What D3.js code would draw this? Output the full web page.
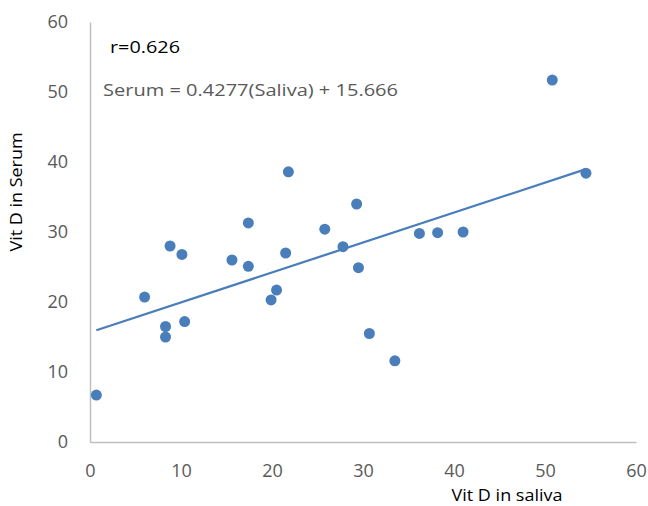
<!DOCTYPE html>
<html>
<head>
<meta charset="utf-8">
<script src="https://cdn.jsdelivr.net/npm/d3@7"></script>
<style>
  body { margin: 0; background: #fff; }
  svg { display: block; font-family: "Open Sans", sans-serif; }
</style>
</head>
<body>
<div id="chart"></div>
<script>

// values
var saliva = [0.7, 6.0, 8.3, 8.3, 8.8, 10.1, 10.4, 15.6, 17.4, 17.4, 19.9, 20.5, 21.5,
              21.8, 25.8, 27.8, 29.3, 29.5, 30.7, 33.5, 36.2, 38.2, 41.0, 50.8, 54.5];
var serum  = [6.7, 20.7, 16.5, 15.0, 28.0, 26.8, 17.2, 26.0, 31.3, 25.1, 20.3, 21.7, 27.0,
              38.6, 30.4, 27.9, 34.0, 24.9, 15.5, 11.6, 29.8, 29.9, 30.0, 51.7, 38.4];
var xTicks = [0, 10, 20, 30, 40, 50, 60];
var yTicks = [0, 10, 20, 30, 40, 50, 60];
var slope = 0.4277;
var intercept = 15.666;
var rLabel = "r=0.626";
var eqLabel = "Serum = 0.4277(Saliva) + 15.666";

var width = 648;
var height = 506;
var margin = {top: 22, right: 12, bottom: 64, left: 90};

var blue = "#4a7ebb";
var gray = "#595959";

var svg = d3.select("#chart")
  .append("svg")
  .attr("width", width)
  .attr("height", height);

var x = d3.scaleLinear().domain([0, 60]).range([margin.left, width - margin.right]);
var y = d3.scaleLinear().domain([0, 60]).range([height - margin.bottom, margin.top]);

// axes (no ticks, just the light grey lines)
var xAxis = svg.append("g")
  .attr("transform", "translate(0," + y(0) + ")")
  .call(d3.axisBottom(x).tickValues(xTicks).tickSize(0).tickPadding(22));

var yAxis = svg.append("g")
  .attr("transform", "translate(" + x(0) + ",0)")
  .call(d3.axisLeft(y).tickValues(yTicks).tickSize(0).tickPadding(22));

[xAxis, yAxis].forEach(function (g) {
  g.select(".domain").attr("stroke", "#bfbfbf").attr("stroke-width", 1.5);
  g.selectAll("text")
    .attr("fill", gray)
    .style("font-size", "18px")
    .style("font-family", "'Open Sans', sans-serif");
});

// trendline over the range of the data
var xExt = d3.extent(saliva);
var trend = xExt.map(function (v) { return [v, slope * v + intercept]; });

svg.append("path")
  .datum(trend)
  .attr("fill", "none")
  .attr("stroke", blue)
  .attr("stroke-width", 2.25)
  .attr("d", d3.line()
    .x(function (d) { return x(d[0]); })
    .y(function (d) { return y(d[1]); }));

// points
var points = saliva.map(function (v, i) { return {sx: v, sy: serum[i]}; });

svg.append("g")
  .selectAll("circle")
  .data(points)
  .enter().append("circle")
  .attr("cx", function (d) { return x(d.sx); })
  .attr("cy", function (d) { return y(d.sy); })
  .attr("r", 5.5)
  .attr("fill", blue);

// annotations
svg.append("text")
  .attr("x", 110)
  .attr("y", 53)
  .attr("fill", "#000")
  .attr("textLength", 70)
  .attr("lengthAdjust", "spacingAndGlyphs")
  .style("font-size", "17px")
  .text(rLabel);

svg.append("text")
  .attr("x", 103)
  .attr("y", 96)
  .attr("fill", gray)
  .attr("textLength", 295)
  .attr("lengthAdjust", "spacingAndGlyphs")
  .style("font-size", "17px")
  .text(eqLabel);

// axis titles
svg.append("text")
  .attr("x", 507)
  .attr("y", 501)
  .attr("text-anchor", "middle")
  .attr("fill", "#000")
  .attr("textLength", 111)
  .attr("lengthAdjust", "spacingAndGlyphs")
  .style("font-size", "17px")
  .text("Vit D in saliva");

svg.append("text")
  .attr("transform", "translate(22,192) rotate(-90)")
  .attr("text-anchor", "middle")
  .attr("fill", "#000")
  .attr("textLength", 119)
  .attr("lengthAdjust", "spacingAndGlyphs")
  .style("font-size", "16px")
  .text("Vit D in Serum");

</script>
</body>
</html>
